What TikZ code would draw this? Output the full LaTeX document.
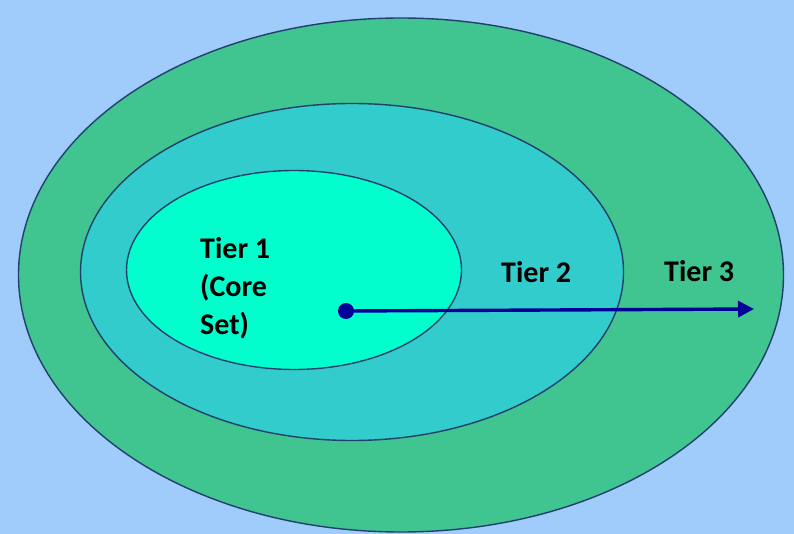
\documentclass[tikz,border=0pt]{standalone}
\usepackage{fontspec}
\setmainfont{Carlito}
\usepackage{tikz}
\usetikzlibrary{arrows.meta,shapes.geometric}
\definecolor{skyblue}{HTML}{9FCCFA}
\definecolor{tierthree}{HTML}{40C490}
\definecolor{tiertwo}{HTML}{33CCCC}
\definecolor{tierone}{HTML}{00FFCC}
\definecolor{rimblue}{HTML}{22406E}
\definecolor{arrowblue}{HTML}{000099}

\begin{document}
\begin{tikzpicture}[x=1pt, y=-1pt, >=Stealth,
  tier/.style={ellipse, draw=rimblue, line width=1.4pt, inner sep=0pt},
  label/.style={font=\bfseries\fontsize{30}{38}\selectfont, anchor=base west, inner sep=0pt, align=left}]
  \fill[skyblue] (0,0) rectangle (794,534);
  \useasboundingbox (0,0) rectangle (794,534);

  \node[tier, fill=tierthree, minimum width=765pt, minimum height=514pt] (t3) at (401,275) {};
  \node[tier, fill=tiertwo, minimum width=543pt, minimum height=337pt] (t2) at (352,272) {};
  \node[tier, fill=tierone, minimum width=335pt, minimum height=199pt] (t1) at (294,270) {};

  \node[label] (l1) at (200,334) {Tier 1\\(Core\\Set)};
  \node[label] (l2) at (501,283) {Tier 2};
  \node[label] (l3) at (664,282) {Tier 3};

  \node[circle, fill=arrowblue, minimum size=16pt, inner sep=0pt] (c) at (346,311) {};
  \coordinate (end) at (754,309);
  \draw[arrowblue, line width=3.4pt, arrows={-Triangle[length=16pt, width=16pt]}] (c.center) -- (end);
\end{tikzpicture}
\end{document}
